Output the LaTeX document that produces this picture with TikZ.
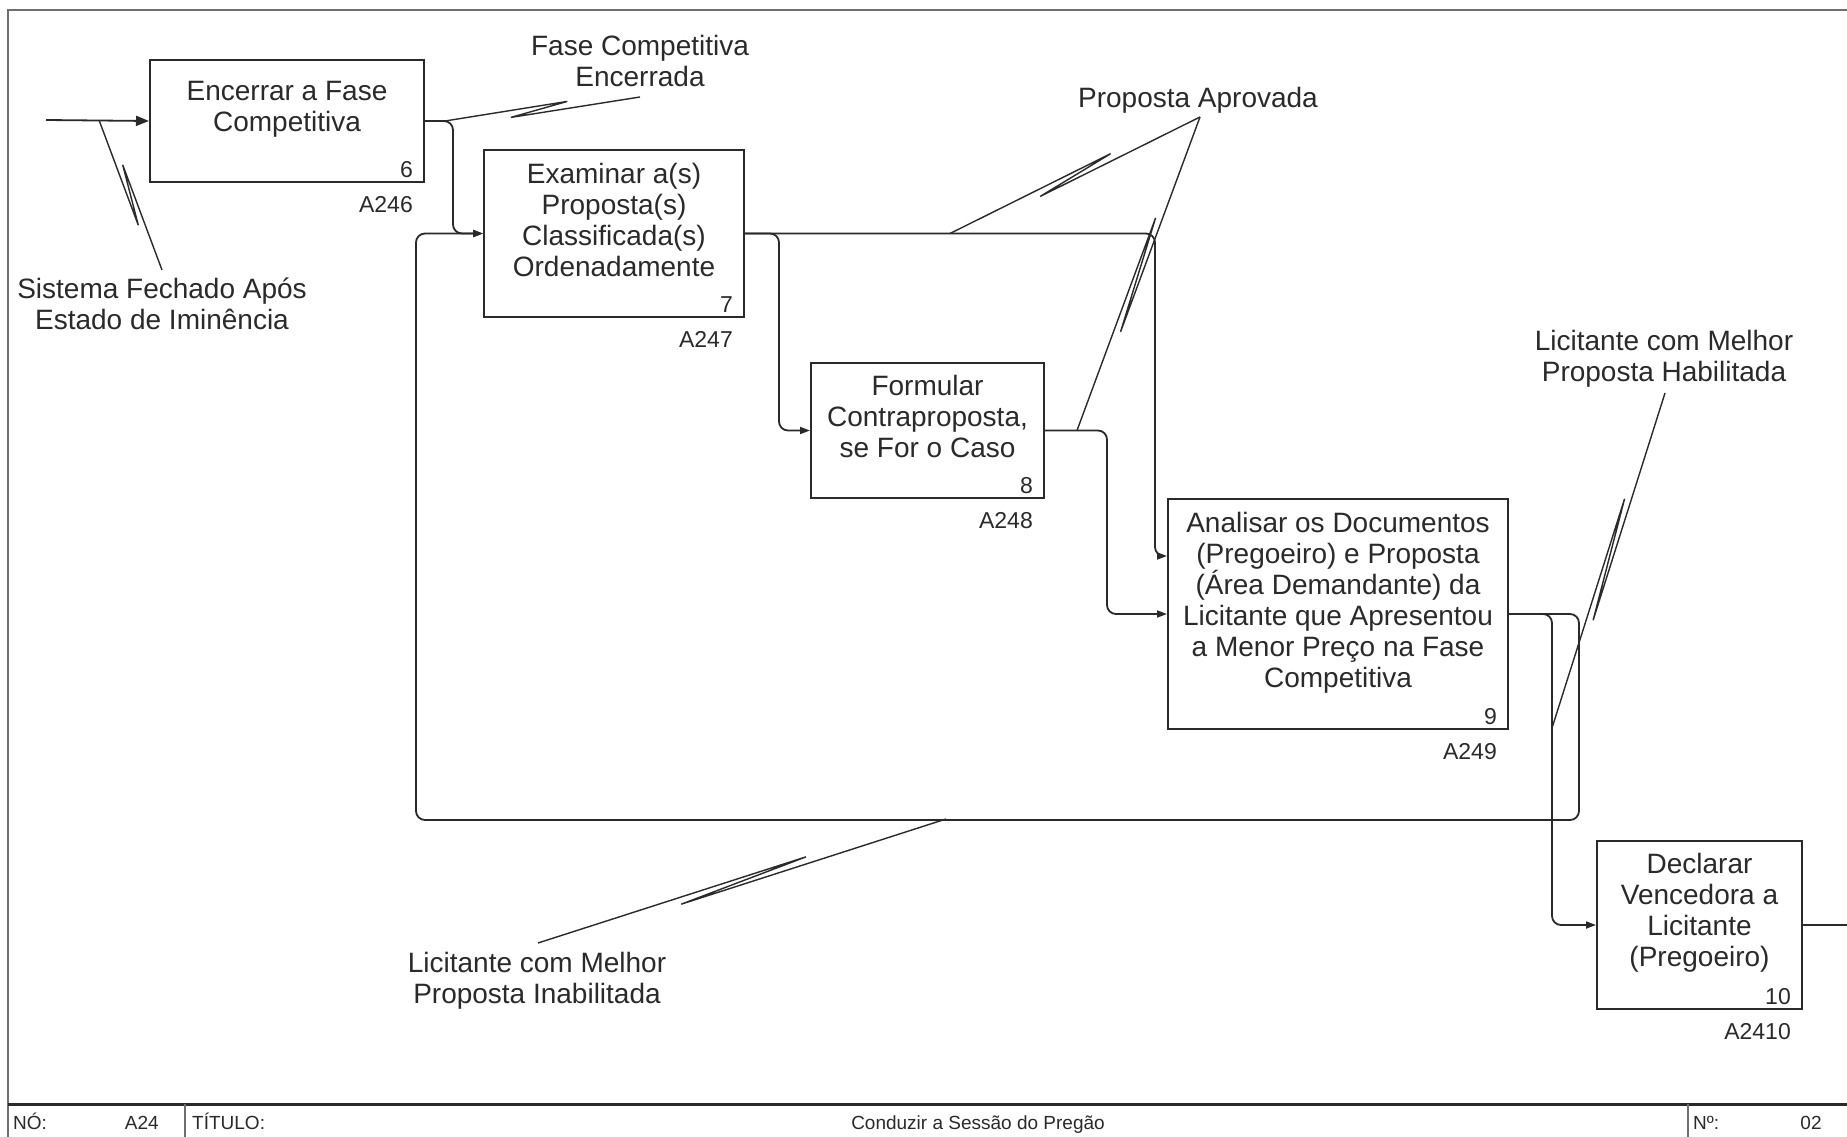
\documentclass[tikz,border=0pt]{standalone}
\usepackage{fontspec}
\setmainfont{Liberation Sans}
\usetikzlibrary{calc,arrows.meta}

\definecolor{inkc}{HTML}{2A2A2A}
\definecolor{framec}{HTML}{6E6E6E}

\newcommand\boxfont{\fontsize{28}{31}\selectfont}
\newcommand\idfont{\fontsize{23}{26}\selectfont}
\newcommand\footfont{\fontsize{19}{22}\selectfont}
% strut for the first line of multi-line labels, so that the north anchor sits at a fixed distance above the first baseline
\newcommand\firstline{\rule{0pt}{22pt}}

% IDEF0 squiggle: leader from #1 (arrow) to #2 (label), with a Z-break between fractions #3 and #4
\newcommand\idefsquiggle[6]{%
  \draw[lead] (#1) -- ($(#1)!#4!(#2)!4.5pt!#6:(#2)$) -- ($(#1)!#3!(#2)!4.5pt!#5:(#2)$) -- (#2);}

\begin{document}
\begin{tikzpicture}[x=1pt,y=-1pt,
  proc/.style={draw=inkc, line width=2pt, fill=white, inner sep=0pt, anchor=north west},
  ptext/.style={font=\boxfont, align=center, inner sep=0pt, anchor=north, text=inkc},
  numlbl/.style={font=\idfont, inner sep=0pt, anchor=base east, text=inkc},
  flow/.style={draw=inkc, line width=1.8pt, rounded corners=9pt, -{Triangle[length=10pt,width=7pt]}},
  plain/.style={draw=inkc, line width=1.8pt, rounded corners=9pt},
  lead/.style={draw=inkc, line width=1.4pt},
  foot/.style={font=\footfont, inner sep=0pt, text=inkc}]

\useasboundingbox (0,0) rectangle (1847,1137);
\fill[white] (0,0) rectangle (1847,1137);

% sheet frame and footer
\draw[framec, line width=2.5pt] (8,1137) -- (8,10) -- (1847,10);
\draw[inkc, line width=3pt] (8,1104) -- (1847,1104);
\draw[framec, line width=1.5pt] (185,1104) -- (185,1137);
\draw[framec, line width=1.5pt] (1688,1104) -- (1688,1137);
\node[foot, anchor=base west] (fno) at (13,1129) {NÓ:};
\node[foot, anchor=base east] (fnode) at (159,1129) {A24};
\node[foot, anchor=base west] (ftit) at (192,1129) {TÍTULO:};
\node[foot, anchor=base] (ftitle) at (978,1129) {Conduzir a Sessão do Pregão};
\node[foot, anchor=base west] (fnum) at (1693,1129) {Nº:};
\node[foot, anchor=base] (fnumv) at (1811,1129) {02};

% activity boxes
\node[proc, minimum width=274pt, minimum height=122pt] (b6) at (149,59) {};
\node[proc, minimum width=260pt, minimum height=167pt] (b7) at (483,149) {};
\node[proc, minimum width=233pt, minimum height=135pt] (b8) at (810,362) {};
\node[proc, minimum width=340pt, minimum height=230pt] (b9) at (1167,498) {};
\node[proc, minimum width=205pt, minimum height=168pt] (b10) at (1596,840) {};

\node[ptext] (t6) at ($(b6.north)+(0,19)$) {\firstline Encerrar a Fase\\Competitiva};
\node[ptext] (t7) at ($(b7.north)+(0,12)$) {\firstline Examinar a(s)\\Proposta(s)\\Classificada(s)\\Ordenadamente};
\node[ptext] (t8) at ($(b8.north)+(0,11)$) {\firstline Formular\\Contraproposta,\\se For o Caso};
\node[ptext] (t9) at ($(b9.north)+(0,12)$) {\firstline Analisar os Documentos\\(Pregoeiro) e Proposta\\(Área Demandante) da\\Licitante que Apresentou\\a Menor Preço na Fase\\Competitiva};
\node[ptext] (t10) at ($(b10.north)+(0,11)$) {\firstline Declarar\\Vencedora a\\Licitante\\(Pregoeiro)};

% box numbers and node references
\foreach \b/\n/\r in {b6/6/A246, b7/7/A247, b8/8/A248, b9/9/A249, b10/10/A2410}{
  \node[numlbl] (\b n) at ($(\b.south east)+(-12,-6)$) {\n};
  \node[numlbl] (\b r) at ($(\b.south east)+(-12,29)$) {\r};
}

% arrow labels
\node[ptext] (lsis) at (162,276) {\firstline Sistema Fechado Após\\Estado de Iminência};
\node[ptext] (lfase) at (640,33) {\firstline Fase Competitiva\\Encerrada};
\node[ptext] (lprop) at (1198,85) {\firstline Proposta Aprovada};
\node[ptext] (lhab) at (1664,328) {\firstline Licitante com Melhor\\Proposta Habilitada};
\node[ptext] (linab) at (537,950) {\firstline Licitante com Melhor\\Proposta Inabilitada};

% connector ends and junctions
\coordinate (in6) at (46,120);
\coordinate (jin) at ($(in6)+(53,0)$);
\coordinate (j6) at ($(b6.east)+(20,0)$);
\coordinate (j7) at ($(b7.east)+(205,0)$);
\coordinate (j8) at ($(b8.east)+(32,0)$);
\coordinate (j9) at ($(b9.east)+(43,114)$);
\coordinate (jloop) at (946,819);
\coordinate (b9in) at ($(b9.north west)+(0,58)$);
\coordinate (out10) at ($(b10.east)+(60,0)$);

\coordinate (esis) at (162,270);
\coordinate (efase) at (640,97);
\coordinate (eprop) at (1200,117);
\coordinate (ehab) at (1665,393);
\coordinate (einab) at (538,943);

% arrows between activities
\draw[flow, -{Triangle[length=13pt,width=10pt]}] (in6) -- (b6.west);
\draw[flow] (b6.east) -- ++(28,0) |- (b7.west);
\draw[flow] (b7.east) -- ++(410,0) |- (b9in);
\draw[flow] (b7.east) -- ++(34,0) |- (b8.west);
\draw[flow] (b8.east) -- ++(62,0) |- (b9.west);
\draw[flow] (b9.east) -- ++(43,0) |- (b10.west);
\draw[flow] (b9.east) -- ++(70,0) -- ++(0,206) -| ($(b7.west)+(-67,0)$) -- (b7.west);
\draw[plain] (b10.east) -- (out10);

% label leaders with squiggles
\idefsquiggle{jin}{esis}{0.31}{0.69}{90}{-90}
\idefsquiggle{j6}{efase}{0.335}{0.63}{-90}{90}
\idefsquiggle{j7}{eprop}{0.353}{0.65}{-90}{90}
\idefsquiggle{j8}{eprop}{0.32}{0.673}{-90}{90}
\idefsquiggle{j9}{ehab}{0.326}{0.68}{-90}{90}
\idefsquiggle{jloop}{einab}{0.34}{0.652}{-90}{90}

\end{tikzpicture}
\end{document}
